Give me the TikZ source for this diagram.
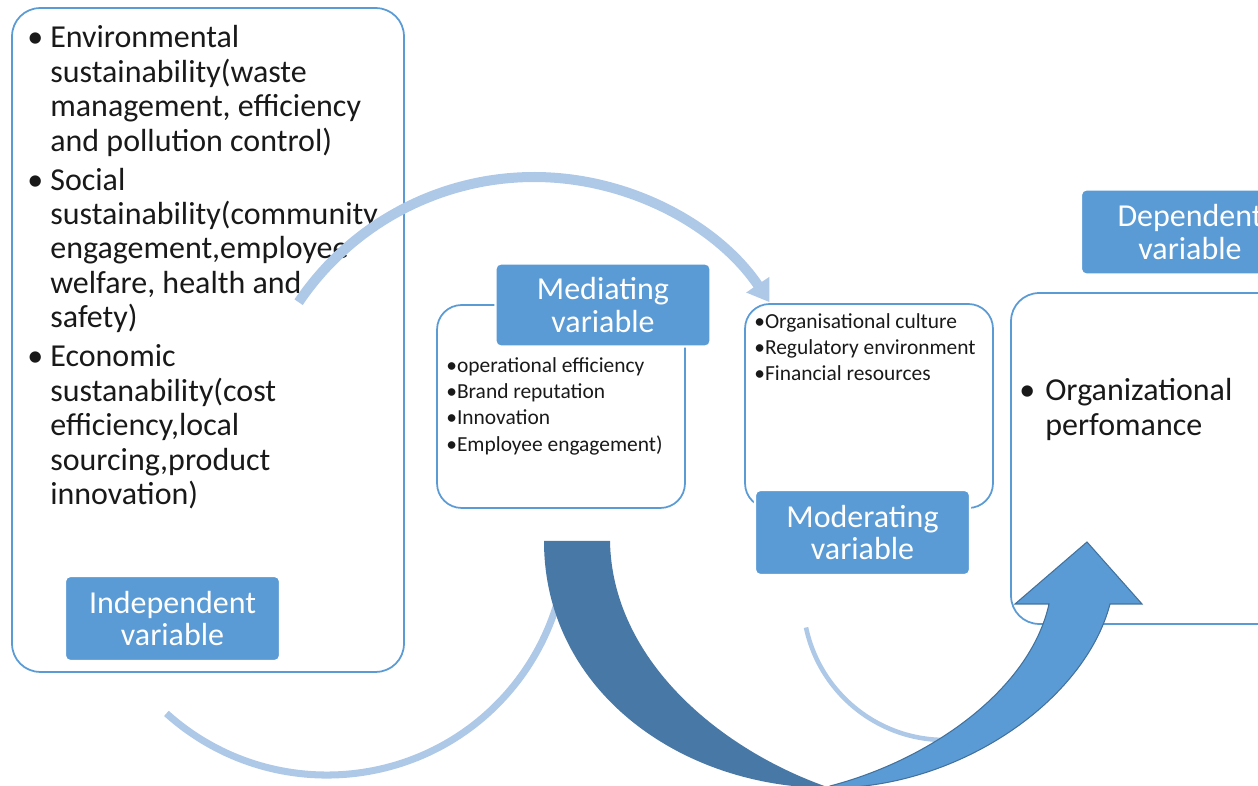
\documentclass[tikz,border=0pt]{standalone}
\usepackage{fontspec}
\setmainfont{Carlito}
\usetikzlibrary{arrows.meta}

\definecolor{boxblue}{RGB}{91,155,213}
\definecolor{arcblue}{RGB}{174,200,232}
\definecolor{darkband}{RGB}{72,120,166}
\definecolor{bandline}{RGB}{65,113,156}

\newcommand{\bigtext}{\fontsize{18.2}{19.6}\selectfont}
\newcommand{\smalltext}{\fontsize{12.2}{14.8}\selectfont}

\begin{document}
\begin{tikzpicture}[
        x=0.02cm, y=-0.02cm,
        varbox/.style={rectangle,draw=boxblue,line width=1pt,rounded corners=14pt},
        varlabel/.style={rectangle,fill=boxblue,draw=white,line width=1.2pt,rounded corners=3pt,
            minimum width=4.3cm,minimum height=1.7cm,text=white,align=center,
            font=\fontsize{18.2}{18.7}\selectfont},
        itemtext/.style={anchor=base west,inner sep=0pt,text=black!90},
        swoop/.style={draw=arcblue},
    ]
    \useasboundingbox (0,0) rectangle (1258,786);
    \clip (0,0) rectangle (1258,786);

    % outlined boxes
    \node[varbox,rounded corners=16pt,minimum width=7.84cm,minimum height=13.28cm] (indepbox) at (208,340) {};
    \node[varbox,minimum width=4.96cm,minimum height=4.06cm] (medbox) at (561,406.5) {};
    \node[varbox,minimum width=4.96cm,minimum height=4.08cm] (modbox) at (869,406) {};
    \node[varbox,rounded corners=16pt,minimum width=6.18cm,minimum height=6.62cm] (depbox) at (1165.5,458.5) {};

    % filled labels
    \node[varlabel] (indeplabel) at (172.5,618.5) {Independent\\variable};
    \node[varlabel,minimum height=1.66cm] (medlabel) at (603,305) {Mediating\\variable};
    \node[varlabel] (modlabel) at (862.5,532.5) {Moderating\\variable};
    \node[varlabel,minimum width=4.36cm] (deplabel) at (1190,232) {Dependent\\variable};

    % box contents
    \node[itemtext,font=\bigtext] (envtext) at (27,48) {%
        \begin{tabular}[t]{@{}p{0.46cm}@{}l@{}}
        \textbullet & Environmental\\
         & sustainability(waste\\
         & management, efficiency\\
         & and pollution control)\\[2.5pt]
        \textbullet & Social\\
         & sustainability(community\\
         & engagement,employee\\
         & welfare, health and\\
         & safety)\\[2.5pt]
        \textbullet & Economic\\
         & sustanability(cost\\
         & efficiency,local\\
         & sourcing,product\\
         & innovation)
        \end{tabular}};
    \node[itemtext,font=\smalltext] (medtext) at (446,373) {%
        \begin{tabular}[t]{@{}l@{}}
        \textbullet{}operational efficiency\\
        \textbullet{}Brand reputation\\
        \textbullet{}Innovation\\
        \textbullet{}Employee engagement)
        \end{tabular}};
    \node[itemtext,font=\smalltext] (modtext) at (754,329) {%
        \begin{tabular}[t]{@{}l@{}}
        \textbullet{}Organisational culture\\
        \textbullet{}Regulatory environment\\
        \textbullet{}Financial resources
        \end{tabular}};
    \node[itemtext,font=\bigtext] (deptext) at (1019,401) {%
        \begin{tabular}[t]{@{}p{0.52cm}@{}l@{}}
        \textbullet & Organizational\\
         & perfomance
        \end{tabular}};

    % light swoops
    \coordinate (topstart) at (298.6,302.2);
    \coordinate (lowstart) at (166.4,713.4);
    \coordinate (midstart) at (806,627.5);
    \draw[swoop,line width=5.7pt,-{Triangle[width=15pt,length=12pt]}]
        (topstart) arc[start angle=214,end angle=326,radius=284];
    \draw[swoop,line width=4pt] (lowstart) arc[start angle=132,end angle=12,radius=240];
    \draw[swoop,line width=2.6pt] (midstart) arc[start angle=168,end angle=85,radius=142];

    % u-turn arrow
    \fill[darkband] (544,541) .. controls (544,690) and (680,788) .. (830,788)
        .. controls (720,750) and (612,660) .. (610,541) -- cycle;
    \filldraw[fill=boxblue,draw=bandline,line width=0.6pt]
        (830,788) .. controls (960,788) and (1085,700) .. (1110,604)
        -- (1142,604) -- (1087,542) -- (1015,604) -- (1049,604)
        .. controls (1030,690) and (930,760) .. (830,786) -- cycle;
\end{tikzpicture}
\end{document}
